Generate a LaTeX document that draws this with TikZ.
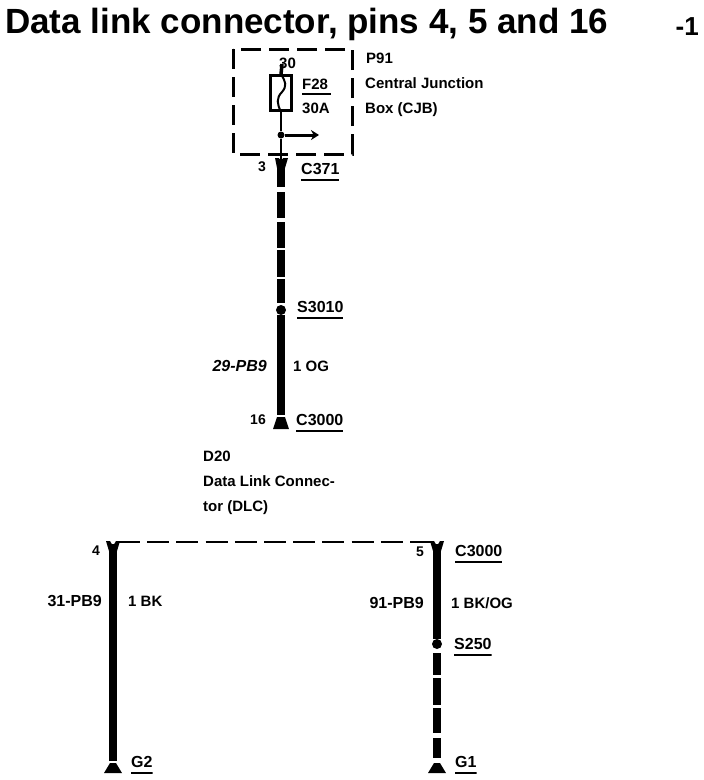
\documentclass[tikz,border=0pt]{standalone}
\usepackage{fontspec}
\setmainfont{Liberation Sans}
\usetikzlibrary{positioning, arrows.meta}
\tikzset{
    wirelabel/.style={inner sep=0pt, font=\fontsize{15}{17}\selectfont\bfseries},
    circuitlabel/.style={inner sep=0pt, font=\fontsize{16}{18}\selectfont\bfseries},
    pinlabel/.style={inner sep=0pt, font=\fontsize{14}{16}\selectfont\bfseries},
    reflabel/.style={inner sep=0pt, font=\fontsize{16}{18}\selectfont\bfseries, text height=11.5pt, text depth=6pt, path picture={\draw[line width=3.2pt] (path picture bounding box.south west) -- (path picture bounding box.south east);}},
    heavywire/.style={line width=8pt},
    thinwire/.style={line width=2pt},
    junctiondot/.style={circle, fill=black, inner sep=0pt, minimum size=10pt},
    tapwire/.style={line width=3pt, -{Stealth[length=8pt,width=10pt]}},
}
\begin{document}
\begin{tikzpicture}[x=1pt, y=-1pt]
    \useasboundingbox (0,0) rectangle (704,780);
    \node[inner sep=0pt, anchor=base west, font=\fontsize{35}{37}\selectfont\bfseries] (title) at (5,33) {Data link connector, pins 4, 5 and 16};
    \node[inner sep=0pt, anchor=base east, font=\fontsize{26}{28}\selectfont\bfseries] (sheetno) at (699,35) {-1};
    % central junction box
    \draw[line width=3pt, dash pattern=on 20pt off 8pt] (233,49) rectangle (352,154);
    \node[draw, line width=2.4pt, minimum width=21pt, minimum height=35pt, inner sep=0pt] (fuse) at (281,93) {};
    \coordinate (fusetop) at (282,64);
    \coordinate (conntop) at (281,160);
    \node[junctiondot, minimum size=7pt] (tap) at (281,135) {};
    \coordinate (tapend) at (319,135);
    \draw[line width=3.5pt] (fusetop) -- (fuse.north);
    \draw[thinwire] (fuse.south) -- (tap) -- (conntop);
    \draw[thinwire] (fuse.north) .. controls (286,82) and (287,86) .. (282,92) .. controls (276,98) and (277,104) .. (fuse.south);
    \draw[tapwire] (tap) -- (tapend);
    \node[wirelabel, anchor=west] (pinthirty) at (279,63) {30};
    \node[wirelabel, anchor=west] (fusename) at (302,84) {F28};
    \draw[line width=1.6pt] (302,94) -- (331,94);
    \node[wirelabel, anchor=west] (fuseamps) at (302,108) {30A};
    \node[wirelabel, anchor=west] (boxref) at (366,58) {P91};
    \node[wirelabel, anchor=west] (boxname) at (365,83) {Central Junction};
    \node[wirelabel, anchor=west] (boxnametwo) at (365,110) {Box (CJB)};
    % upper wire
    \coordinate (uppertop) at (281,159);
    \coordinate (upperend) at (281,415);
    \coordinate (upperstub) at (281,303);
    \node[junctiondot] (splicetop) at (281,310) {};
    \draw[heavywire, dash pattern=on 28pt off 5pt on 26pt off 4pt on 26pt off 2pt on 27pt off 2pt on 30pt] (uppertop) -- (upperstub);
    \draw[heavywire] (splicetop) -- (upperend);
    \fill (275,158) -- (279,158) -- (281,163) -- (283,158) -- (288,158) -- (285,168) -- (277,168) -- cycle;
    \fill (273,429) -- (277,417) -- (285,417) -- (289,429) -- cycle;
    \node[pinlabel, anchor=east] (pinthree) at (266,167) {3};
    \node[reflabel, anchor=west] (connupper) at (301,172) {C371};
    \node[reflabel, anchor=west] (spliceupper) at (297,310) {S3010};
    \node[circuitlabel, anchor=east, font=\fontsize{16}{18}\selectfont\bfseries\itshape] (circuitupper) at (267,366) {29-PB9};
    \node[wirelabel, anchor=west] (colorupper) at (293,366) {1 OG};
    \node[pinlabel, anchor=east] (pinsixteen) at (266,420) {16};
    \node[reflabel, anchor=west] (connmid) at (296,423) {C3000};
    % data link connector
    \node[wirelabel, anchor=west] (dlcref) at (203,456) {D20};
    \node[wirelabel, anchor=west] (dlcname) at (203,481) {Data Link Connec-};
    \node[wirelabel, anchor=west] (dlcnametwo) at (203,508) {tor (DLC)};
    \coordinate (barleft) at (118,542);
    \coordinate (barright) at (431,542);
    \draw[line width=2pt, dash pattern=on 22pt off 7.2pt] (barleft) -- (barright);
    % lower left wire
    \coordinate (lefttop) at (113,544);
    \coordinate (leftend) at (113,761);
    \draw[heavywire] (lefttop) -- (leftend);
    \fill (106,541) -- (110,541) -- (113,546) -- (116,541) -- (120,541) -- (117,551) -- (109,551) -- cycle;
    \fill (104,773) -- (110,763) -- (116,763) -- (122,773) -- cycle;
    \node[pinlabel, anchor=east] (pinfour) at (100,551) {4};
    \node[circuitlabel, anchor=east] (circuitleft) at (102,601) {31-PB9};
    \node[wirelabel, anchor=west] (colorleft) at (128,601) {1 BK};
    \node[reflabel, anchor=west] (groundleft) at (131,765) {G2};
    % lower right wire
    \coordinate (righttop) at (437,544);
    \coordinate (rightstub) at (437,653);
    \coordinate (rightend) at (437,758);
    \node[junctiondot] (spliceright) at (437,644) {};
    \draw[heavywire] (righttop) -- (spliceright);
    \draw[heavywire, dash pattern=on 22pt off 3pt on 27pt off 3pt on 25pt off 5pt on 30pt] (rightstub) -- (rightend);
    \fill (430,541) -- (434,541) -- (437,546) -- (440,541) -- (444,541) -- (441,551) -- (433,551) -- cycle;
    \fill (428,773) -- (434,763) -- (440,763) -- (446,773) -- cycle;
    \node[pinlabel, anchor=east] (pinfive) at (424,552) {5};
    \node[reflabel, anchor=west] (connright) at (455,554) {C3000};
    \node[circuitlabel, anchor=east] (circuitright) at (424,603) {91-PB9};
    \node[wirelabel, anchor=west] (colorright) at (451,603) {1 BK/OG};
    \node[reflabel, anchor=west] (spliceref) at (454,647) {S250};
    \node[reflabel, anchor=west] (groundright) at (455,765) {G1};
\end{tikzpicture}
\end{document}
